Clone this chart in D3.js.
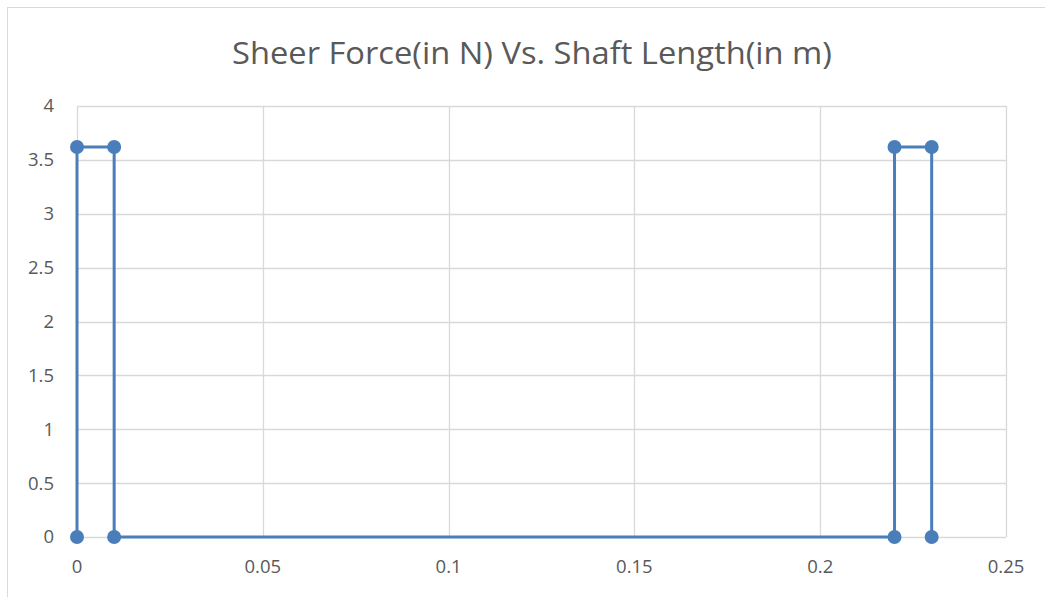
<!DOCTYPE html>
<html>
<head>
<meta charset="utf-8">
<script src="https://cdn.jsdelivr.net/npm/d3@7"></script>
<style>
  body { margin:0; background:#fff; }
  svg { display:block; font-family:"Open Sans", "Liberation Sans", sans-serif; }
</style>
</head>
<body>
<script>
  // shaft length (m) and shear force (N), in drawing order
  const lengths = [0, 0, 0.01, 0.01, 0.22, 0.22, 0.23, 0.23];
  const forces  = [0, 3.62, 3.62, 0, 0, 3.62, 3.62, 0];
  const xTicks = [0, 0.05, 0.1, 0.15, 0.2, 0.25];
  const yTicks = [0, 0.5, 1, 1.5, 2, 2.5, 3, 3.5, 4];
  const title = "Sheer Force(in N) Vs. Shaft Length(in m)";

  const W = 1045, H = 597;
  const margin = {top:106, right:39, bottom:60, left:77};

  const svg = d3.select("body").append("svg")
      .attr("width", W).attr("height", H);

  // chart frame (cropped on right and bottom)
  svg.append("rect")
      .attr("x", 7.5).attr("y", 7.5)
      .attr("width", W + 10).attr("height", H + 10)
      .attr("fill", "#fff").attr("stroke", "#d9d9d9").attr("stroke-width", 1);

  const x = d3.scaleLinear().domain([0, 0.25]).range([margin.left, W - margin.right]);
  const y = d3.scaleLinear().domain([0, 4]).range([H - margin.bottom, margin.top]);

  // gridlines
  svg.append("g").selectAll("line.h")
    .data(yTicks).enter().append("line")
      .attr("x1", x(0)).attr("x2", x(0.25))
      .attr("y1", d => Math.round(y(d)) + 0.5).attr("y2", d => Math.round(y(d)) + 0.5)
      .attr("stroke", "#d9d9d9").attr("stroke-width", 1.3);
  svg.append("g").selectAll("line.v")
    .data(xTicks).enter().append("line")
      .attr("y1", y(0)).attr("y2", y(4))
      .attr("x1", d => Math.round(x(d)) + 0.5).attr("x2", d => Math.round(x(d)) + 0.5)
      .attr("stroke", "#d9d9d9").attr("stroke-width", 1.3);

  // tick labels
  svg.append("g").selectAll("text")
    .data(yTicks).enter().append("text")
      .attr("x", 54).attr("y", d => y(d))
      .attr("dy", "0.35em").attr("text-anchor", "end")
      .attr("font-size", 18.5).attr("fill", "#595959")
      .text(d => d);
  svg.append("g").selectAll("text")
    .data(xTicks).enter().append("text")
      .attr("x", d => x(d)).attr("y", y(0) + 36)
      .attr("text-anchor", "middle")
      .attr("font-size", 18.5).attr("fill", "#595959")
      .text(d => d);

  const pts = lengths.map((l, i) => [l, forces[i]]);

  svg.append("path")
      .datum(pts)
      .attr("fill", "none")
      .attr("stroke", "#4a7ebb")
      .attr("stroke-width", 3)
      .attr("d", d3.line().x(d => x(d[0])).y(d => y(d[1])));

  svg.append("g").selectAll("circle")
    .data(pts).enter().append("circle")
      .attr("cx", d => x(d[0])).attr("cy", d => y(d[1]))
      .attr("r", 7)
      .attr("fill", "#4a7ebb");

  svg.append("text")
      .attr("x", 532).attr("y", 64)
      .attr("text-anchor", "middle")
      .attr("font-size", 31).attr("fill", "#595959")
      .attr("textLength", 600).attr("lengthAdjust", "spacingAndGlyphs")
      .text(title);
</script>
</body>
</html>
